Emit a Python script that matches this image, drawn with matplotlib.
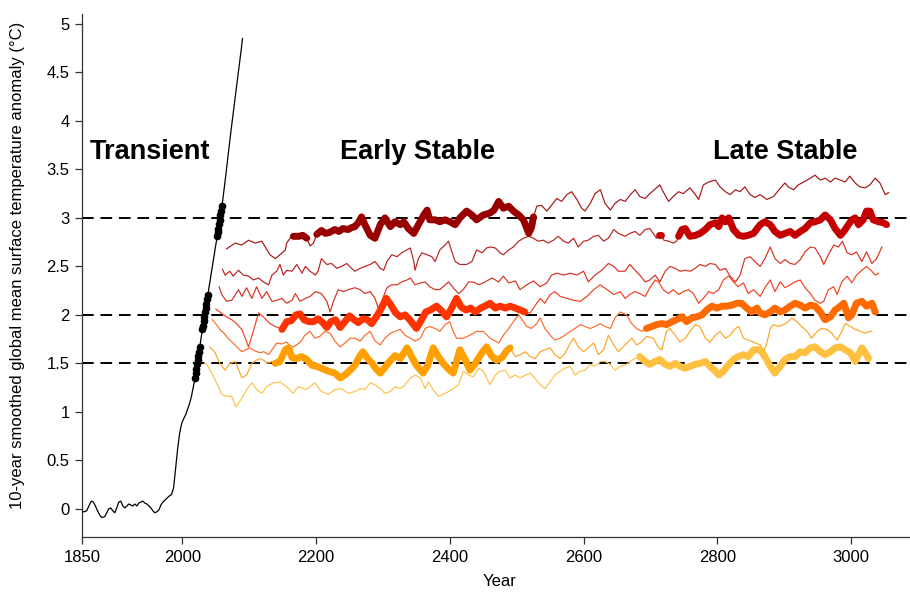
import numpy as np
import matplotlib
matplotlib.use("Agg")
import matplotlib.pyplot as plt

plt.rcParams['font.family'] = ['Liberation Sans', 'DejaVu Sans']

# transient (historical + ramp-up)
tr_yr = [1850, 1853, 1857, 1861, 1864, 1867, 1870, 1874, 1877, 1880, 1884, 1887, 1890, 1893,
         1896, 1899, 1902, 1905, 1908, 1911, 1914, 1917, 1920, 1923, 1926, 1929, 1932, 1935,
         1938, 1941, 1944, 1947, 1950, 1953, 1956, 1959, 1962, 1965, 1968, 1971, 1974, 1977,
         1980, 1984, 1987, 1990, 1993, 1996, 1999, 2002, 2005, 2008, 2011, 2014, 2015, 2016,
         2017, 2018, 2019, 2020, 2021, 2022, 2023, 2024, 2025, 2026, 2027, 2028, 2029, 2030,
         2031, 2032, 2033, 2034, 2035, 2036, 2037, 2038, 2039, 2040, 2041, 2042, 2043, 2044,
         2045, 2046, 2047, 2048, 2049, 2050, 2051, 2052, 2053, 2054, 2055, 2056, 2057, 2058,
         2059, 2060, 2062, 2065, 2069, 2073, 2077, 2081, 2085, 2088, 2090]
tr_t = [-0.03, -0.03, -0.02, 0.04, 0.08, 0.07, 0.03, -0.03, -0.07, -0.09, -0.08, -0.04, 0.00, 0.01,
        -0.02, -0.04, 0.01, 0.07, 0.08, 0.03, 0.01, 0.03, 0.05, 0.04, 0.03, 0.05, 0.03, 0.06,
        0.07, 0.08, 0.06, 0.05, 0.03, 0.01, -0.02, -0.04, -0.03, -0.01, 0.04, 0.07, 0.09, 0.11,
        0.13, 0.15, 0.22, 0.42, 0.62, 0.78, 0.88, 0.93, 0.97, 1.03, 1.09, 1.17, 1.21, 1.24,
        1.28, 1.31, 1.35, 1.40, 1.44, 1.49, 1.53, 1.58, 1.62, 1.67, 1.71, 1.76, 1.80, 1.85,
        1.89, 1.94, 1.98, 2.03, 2.07, 2.11, 2.16, 2.20, 2.24, 2.29, 2.33, 2.37, 2.42, 2.46,
        2.50, 2.55, 2.59, 2.63, 2.68, 2.72, 2.76, 2.81, 2.85, 2.89, 2.94, 2.98, 3.03, 3.07,
        3.12, 3.16, 3.27, 3.44, 3.68, 3.91, 4.13, 4.35, 4.57, 4.73, 4.85]
dot_yr = [2019, 2020, 2021, 2022, 2023, 2024, 2025, 2026,
          2030, 2031, 2032, 2033, 2034, 2035, 2036, 2037, 2038,
          2052, 2053, 2054, 2055, 2056, 2057, 2058, 2059]

l1_yr = [2066, 2079, 2089, 2099, 2109, 2119, 2124, 2131, 2139, 2146, 2154, 2156, 2161, 2166,
         2174, 2180, 2186, 2191, 2196, 2201, 2208, 2214, 2220, 2228, 2234, 2240, 2248, 2253,
         2258, 2263, 2268, 2273, 2281, 2288, 2296, 2303, 2311, 2318, 2326, 2331, 2338, 2346,
         2353, 2361, 2366, 2370, 2378, 2385, 2393, 2400, 2408, 2415, 2425, 2433, 2440, 2450,
         2460, 2466, 2473, 2480, 2488, 2495, 2503, 2510, 2518, 2522, 2525, 2530, 2537, 2545,
         2552, 2560, 2567, 2575, 2582, 2590, 2597, 2602, 2610, 2617, 2625, 2632, 2640, 2647,
         2655, 2662, 2670, 2677, 2684, 2692, 2699, 2709, 2714, 2719, 2727, 2734, 2742, 2749,
         2759, 2767, 2772, 2779, 2787, 2797, 2804, 2812, 2819, 2827, 2834, 2841, 2849, 2856,
         2864, 2874, 2884, 2892, 2901, 2906, 2914, 2921, 2929, 2939, 2946, 2954, 2961, 2969,
         2976, 2984, 2991, 2998, 3006, 3013, 3021, 3028, 3036, 3043, 3051, 3056]
l1_t = [2.68, 2.74, 2.72, 2.77, 2.74, 2.76, 2.70, 2.62, 2.58, 2.62, 2.67, 2.74, 2.79, 2.81,
        2.81, 2.82, 2.79, 2.71, 2.74, 2.83, 2.87, 2.84, 2.85, 2.88, 2.86, 2.89, 2.88, 2.90,
        2.91, 2.95, 3.01, 2.93, 2.82, 2.79, 2.93, 3.00, 2.91, 2.96, 2.93, 2.96, 2.89, 2.84,
        2.93, 3.03, 3.08, 2.98, 2.98, 2.96, 2.98, 2.96, 2.93, 3.00, 3.07, 3.03, 2.98, 3.03,
        3.05, 3.08, 3.17, 3.10, 3.12, 3.07, 3.03, 2.98, 2.84, 2.90, 3.01, 3.12, 3.13, 3.07,
        3.13, 3.20, 3.17, 3.24, 3.27, 3.19, 3.10, 3.07, 3.15, 3.25, 3.29, 3.15, 3.08, 3.15,
        3.19, 3.17, 3.24, 3.29, 3.22, 3.20, 3.25, 3.31, 3.34, 3.27, 3.17, 3.22, 3.27, 3.25,
        3.31, 3.24, 3.19, 3.34, 3.37, 3.39, 3.32, 3.27, 3.24, 3.29, 3.27, 3.32, 3.24, 3.21,
        3.24, 3.19, 3.22, 3.29, 3.36, 3.32, 3.29, 3.34, 3.37, 3.41, 3.44, 3.39, 3.41, 3.37,
        3.41, 3.39, 3.37, 3.43, 3.36, 3.32, 3.31, 3.34, 3.41, 3.36, 3.24, 3.26]

l2_yr = [2060, 2064, 2071, 2076, 2084, 2091, 2099, 2106, 2114, 2121, 2129, 2134, 2141, 2146,
         2151, 2156, 2164, 2171, 2179, 2184, 2191, 2199, 2203, 2208, 2216, 2223, 2231, 2238,
         2246, 2253, 2258, 2266, 2273, 2281, 2288, 2296, 2301, 2306, 2313, 2321, 2328, 2336,
         2341, 2346, 2348, 2353, 2358, 2366, 2373, 2378, 2385, 2393, 2398, 2403, 2408, 2415,
         2425, 2433, 2440, 2448, 2455, 2460, 2468, 2475, 2480, 2488, 2495, 2503, 2510, 2518,
         2525, 2532, 2540, 2547, 2555, 2562, 2570, 2577, 2585, 2592, 2600, 2607, 2615, 2622,
         2630, 2637, 2645, 2652, 2662, 2669, 2677, 2684, 2692, 2699, 2704, 2709, 2712, 2716,
         2720, 2727, 2734, 2739, 2742, 2747, 2752, 2759, 2767, 2774, 2782, 2789, 2797, 2802,
         2807, 2812, 2817, 2824, 2832, 2839, 2846, 2854, 2864, 2871, 2879, 2886, 2894, 2901,
         2909, 2916, 2924, 2931, 2939, 2946, 2954, 2961, 2969, 2976, 2984, 2989, 2996, 3001,
         3006, 3011, 3018, 3023, 3028, 3033, 3041, 3048, 3053]
l2_t = [2.47, 2.41, 2.45, 2.40, 2.46, 2.41, 2.40, 2.36, 2.38, 2.34, 2.31, 2.41, 2.45, 2.52,
        2.41, 2.46, 2.45, 2.52, 2.43, 2.50, 2.45, 2.41, 2.45, 2.58, 2.52, 2.53, 2.48, 2.50,
        2.53, 2.48, 2.45, 2.48, 2.50, 2.52, 2.55, 2.48, 2.46, 2.55, 2.62, 2.60, 2.64, 2.67,
        2.69, 2.55, 2.46, 2.58, 2.64, 2.62, 2.60, 2.55, 2.67, 2.72, 2.76, 2.65, 2.55, 2.52,
        2.52, 2.55, 2.67, 2.64, 2.69, 2.70, 2.69, 2.64, 2.62, 2.67, 2.70, 2.76, 2.79, 2.81,
        2.79, 2.76, 2.77, 2.74, 2.77, 2.81, 2.76, 2.74, 2.79, 2.70, 2.76, 2.77, 2.81, 2.82,
        2.76, 2.79, 2.88, 2.84, 2.81, 2.84, 2.86, 2.82, 2.88, 2.89, 2.84, 2.79, 2.82, 2.82,
        2.77, 2.76, 2.74, 2.76, 2.81, 2.88, 2.89, 2.81, 2.82, 2.84, 2.88, 2.93, 2.95, 2.91,
        3.00, 2.96, 3.00, 2.88, 2.82, 2.81, 2.82, 2.84, 2.93, 2.96, 2.93, 2.86, 2.82, 2.84,
        2.86, 2.82, 2.86, 2.89, 2.95, 2.96, 2.98, 3.03, 2.98, 2.89, 2.82, 2.86, 2.93, 2.98,
        3.00, 2.93, 2.98, 3.07, 3.07, 2.98, 2.96, 2.95, 2.93]

l3_yr = [2055, 2059, 2066, 2074, 2084, 2089, 2096, 2104, 2111, 2119, 2126, 2134, 2141, 2149,
         2156, 2164, 2169, 2176, 2184, 2191, 2199, 2208, 2216, 2221, 2226, 2233, 2241, 2248,
         2258, 2266, 2273, 2281, 2288, 2293, 2298, 2306, 2313, 2321, 2328, 2336, 2341, 2348,
         2356, 2363, 2370, 2378, 2385, 2393, 2398, 2405, 2413, 2420, 2428, 2435, 2443, 2450,
         2463, 2473, 2480, 2488, 2498, 2505, 2515, 2525, 2535, 2545, 2552, 2560, 2570, 2580,
         2590, 2600, 2607, 2617, 2627, 2637, 2645, 2652, 2662, 2669, 2677, 2684, 2692, 2699,
         2707, 2714, 2722, 2729, 2737, 2744, 2752, 2759, 2767, 2774, 2782, 2789, 2797, 2804,
         2812, 2819, 2827, 2834, 2841, 2849, 2856, 2864, 2871, 2879, 2886, 2894, 2901, 2909,
         2916, 2924, 2931, 2939, 2946, 2954, 2959, 2966, 2974, 2981, 2987, 2994, 3001, 3008,
         3016, 3023, 3031, 3038, 3046]
l3_t = [2.29, 2.21, 2.14, 2.15, 2.26, 2.19, 2.28, 2.17, 2.29, 2.17, 2.24, 2.14, 2.15, 2.17,
        2.12, 2.15, 2.22, 2.14, 2.17, 2.19, 2.24, 2.22, 2.14, 2.03, 2.14, 2.26, 2.24, 2.26,
        2.28, 2.26, 2.22, 2.24, 2.17, 2.07, 2.14, 2.28, 2.31, 2.31, 2.34, 2.36, 2.38, 2.31,
        2.33, 2.34, 2.29, 2.26, 2.26, 2.31, 2.34, 2.28, 2.22, 2.26, 2.34, 2.34, 2.31, 2.33,
        2.38, 2.34, 2.40, 2.33, 2.35, 2.26, 2.31, 2.35, 2.29, 2.33, 2.41, 2.43, 2.41, 2.43,
        2.41, 2.45, 2.34, 2.41, 2.46, 2.53, 2.50, 2.45, 2.45, 2.52, 2.46, 2.41, 2.34, 2.36,
        2.41, 2.34, 2.45, 2.50, 2.48, 2.45, 2.46, 2.45, 2.48, 2.52, 2.50, 2.53, 2.52, 2.46,
        2.48, 2.40, 2.34, 2.41, 2.58, 2.60, 2.55, 2.50, 2.58, 2.70, 2.58, 2.53, 2.57, 2.53,
        2.52, 2.57, 2.65, 2.70, 2.69, 2.60, 2.52, 2.62, 2.72, 2.70, 2.76, 2.64, 2.62, 2.65,
        2.55, 2.65, 2.53, 2.58, 2.70]

l4_yr = [2050, 2058, 2066, 2074, 2081, 2089, 2094, 2099, 2106, 2114, 2121, 2131, 2139, 2149,
         2156, 2163, 2170, 2176, 2182, 2189, 2196, 2203, 2210, 2216, 2222, 2229, 2236, 2243,
         2250, 2257, 2263, 2270, 2277, 2283, 2290, 2297, 2305, 2312, 2319, 2326, 2333, 2340,
         2350, 2357, 2364, 2371, 2380, 2388, 2395, 2402, 2410, 2417, 2424, 2431, 2438, 2446,
         2455, 2460, 2468, 2475, 2483, 2490, 2498, 2505, 2512, 2520, 2527, 2535, 2542, 2550,
         2557, 2565, 2575, 2585, 2595, 2605, 2615, 2625, 2635, 2645, 2655, 2662, 2669, 2677,
         2684, 2692, 2699, 2707, 2712, 2719, 2727, 2734, 2742, 2749, 2757, 2764, 2772, 2779,
         2787, 2794, 2802, 2809, 2817, 2824, 2831, 2839, 2846, 2854, 2864, 2871, 2879, 2886,
         2894, 2901, 2909, 2916, 2924, 2931, 2939, 2946, 2954, 2959, 2966, 2974, 2979, 2986,
         2994, 3001, 3008, 3016, 3023, 3031, 3036, 3041]
l4_t = [2.06, 2.02, 1.98, 1.95, 1.91, 1.85, 1.76, 1.67, 1.83, 2.02, 1.98, 1.91, 1.88, 1.85,
        1.93, 1.94, 2.00, 2.01, 1.95, 1.93, 1.93, 1.96, 1.92, 1.87, 1.93, 1.95, 1.87, 1.93,
        1.99, 1.95, 1.92, 1.96, 1.95, 1.91, 1.98, 2.06, 2.17, 2.10, 2.02, 1.98, 2.00, 1.95,
        1.86, 1.94, 2.03, 2.05, 2.09, 2.04, 1.98, 2.06, 2.17, 2.08, 2.05, 2.07, 2.03, 2.07,
        2.10, 2.12, 2.07, 2.09, 2.07, 2.09, 2.07, 2.05, 2.03, 2.02, 2.09, 2.17, 2.12, 2.21,
        2.24, 2.19, 2.17, 2.15, 2.14, 2.19, 2.26, 2.31, 2.26, 2.21, 2.24, 2.17, 2.21, 2.24,
        2.22, 2.19, 2.28, 2.36, 2.34, 2.26, 2.22, 2.26, 2.21, 2.24, 2.26, 2.22, 2.12, 2.17,
        2.24, 2.22, 2.26, 2.36, 2.40, 2.34, 2.29, 2.33, 2.22, 2.26, 2.19, 2.28, 2.36, 2.24,
        2.34, 2.28, 2.31, 2.34, 2.36, 2.28, 2.22, 2.15, 2.12, 2.14, 2.26, 2.29, 2.21, 2.34,
        2.40, 2.33, 2.41, 2.46, 2.50, 2.45, 2.41, 2.43]

l5_yr = [2045, 2051, 2056, 2061, 2066, 2071, 2076, 2083, 2089, 2095, 2101, 2108, 2116, 2122,
         2129, 2135, 2141, 2149, 2156, 2161, 2166, 2171, 2178, 2183, 2191, 2198, 2206, 2213,
         2221, 2228, 2236, 2243, 2251, 2258, 2266, 2273, 2281, 2288, 2296, 2303, 2311, 2318,
         2326, 2333, 2341, 2348, 2356, 2363, 2370, 2378, 2385, 2393, 2400, 2405, 2410, 2420,
         2430, 2440, 2450, 2460, 2468, 2473, 2480, 2488, 2495, 2503, 2508, 2515, 2522, 2530,
         2535, 2542, 2550, 2557, 2565, 2572, 2580, 2587, 2595, 2602, 2610, 2617, 2625, 2632,
         2640, 2647, 2655, 2664, 2672, 2679, 2687, 2694, 2702, 2709, 2717, 2724, 2732, 2739,
         2747, 2754, 2762, 2769, 2777, 2784, 2792, 2799, 2807, 2814, 2822, 2829, 2836, 2844,
         2851, 2859, 2864, 2871, 2879, 2886, 2894, 2901, 2909, 2916, 2924, 2931, 2939, 2946,
         2954, 2961, 2969, 2976, 2984, 2989, 2996, 3001, 3008, 3016, 3023, 3031, 3036]
l5_t = [1.95, 1.90, 1.85, 1.82, 1.78, 1.74, 1.71, 1.66, 1.62, 1.64, 1.66, 1.63, 1.61, 1.62,
        1.59, 1.65, 1.71, 1.70, 1.72, 1.68, 1.67, 1.69, 1.73, 1.79, 1.83, 1.76, 1.78, 1.83,
        1.81, 1.73, 1.67, 1.71, 1.76, 1.76, 1.73, 1.79, 1.83, 1.73, 1.69, 1.76, 1.81, 1.83,
        1.85, 1.79, 1.76, 1.73, 1.76, 1.86, 1.88, 1.86, 1.83, 1.90, 1.93, 1.83, 1.76, 1.76,
        1.79, 1.83, 1.83, 1.76, 1.73, 1.71, 1.79, 1.86, 1.93, 2.00, 1.95, 1.88, 1.86, 1.91,
        1.97, 1.86, 1.79, 1.74, 1.76, 1.79, 1.83, 1.86, 1.90, 1.88, 1.86, 1.88, 1.91, 1.88,
        1.86, 1.97, 2.03, 2.00, 1.91, 1.86, 1.83, 1.86, 1.88, 1.90, 1.91, 1.90, 1.93, 1.95,
        1.98, 1.93, 1.97, 1.98, 2.00, 2.05, 2.09, 2.07, 2.09, 2.09, 2.10, 2.12, 2.12, 2.07,
        2.03, 2.07, 2.02, 2.00, 2.03, 2.07, 2.03, 2.05, 2.09, 2.12, 2.10, 2.07, 2.10, 2.09,
        2.03, 1.95, 1.98, 2.05, 2.09, 2.12, 1.97, 2.00, 2.12, 2.14, 2.09, 2.12, 2.03]

l6_yr = [2041, 2049, 2056, 2064, 2071, 2079, 2084, 2089, 2096, 2104, 2110, 2116, 2122, 2129,
         2134, 2139, 2146, 2154, 2159, 2164, 2171, 2178, 2186, 2194, 2201, 2208, 2218, 2228,
         2236, 2243, 2251, 2258, 2264, 2270, 2277, 2284, 2290, 2296, 2303, 2310, 2318, 2326,
         2336, 2342, 2350, 2360, 2367, 2375, 2382, 2390, 2398, 2405, 2415, 2422, 2430, 2438,
         2447, 2455, 2462, 2470, 2478, 2485, 2490, 2498, 2505, 2513, 2520, 2528, 2535, 2542,
         2550, 2557, 2565, 2572, 2580, 2585, 2592, 2600, 2607, 2615, 2622, 2630, 2637, 2645,
         2652, 2665, 2672, 2679, 2687, 2694, 2704, 2712, 2717, 2724, 2729, 2737, 2744, 2752,
         2759, 2767, 2774, 2782, 2789, 2797, 2804, 2812, 2819, 2827, 2832, 2839, 2846, 2854,
         2864, 2869, 2874, 2879, 2884, 2891, 2899, 2906, 2911, 2919, 2926, 2934, 2941, 2949,
         2956, 2964, 2971, 2979, 2986, 2991, 2999, 3006, 3014, 3021, 3028, 3031]
l6_t = [1.67, 1.61, 1.50, 1.43, 1.50, 1.52, 1.44, 1.35, 1.38, 1.50, 1.53, 1.55, 1.53, 1.50,
        1.52, 1.50, 1.52, 1.64, 1.66, 1.56, 1.55, 1.57, 1.54, 1.48, 1.47, 1.45, 1.42, 1.40,
        1.35, 1.38, 1.43, 1.48, 1.56, 1.62, 1.55, 1.50, 1.44, 1.40, 1.46, 1.52, 1.58, 1.55,
        1.66, 1.58, 1.48, 1.40, 1.48, 1.66, 1.58, 1.50, 1.44, 1.40, 1.64, 1.55, 1.43, 1.50,
        1.60, 1.67, 1.58, 1.53, 1.56, 1.63, 1.66, 1.57, 1.59, 1.62, 1.57, 1.55, 1.62, 1.64,
        1.66, 1.59, 1.55, 1.60, 1.71, 1.76, 1.67, 1.62, 1.66, 1.71, 1.59, 1.64, 1.79, 1.69,
        1.62, 1.71, 1.76, 1.69, 1.72, 1.78, 1.76, 1.66, 1.64, 1.83, 1.86, 1.79, 1.72, 1.76,
        1.83, 1.90, 1.88, 1.76, 1.72, 1.79, 1.83, 1.76, 1.79, 1.86, 1.88, 1.76, 1.74, 1.72,
        1.69, 1.62, 1.71, 1.86, 1.90, 1.88, 1.90, 1.93, 1.97, 1.93, 1.88, 1.83, 1.76, 1.83,
        1.86, 1.85, 1.81, 1.74, 1.83, 1.91, 1.88, 1.85, 1.83, 1.81, 1.83, 1.83]

l7_yr = [2036, 2044, 2051, 2059, 2066, 2074, 2080, 2089, 2096, 2104, 2111, 2119, 2126, 2136,
         2146, 2156, 2166, 2173, 2186, 2198, 2208, 2218, 2228, 2238, 2248, 2258, 2266, 2273,
         2281, 2288, 2296, 2303, 2311, 2318, 2326, 2333, 2341, 2348, 2356, 2363, 2368, 2375,
         2383, 2390, 2398, 2405, 2413, 2420, 2428, 2435, 2443, 2450, 2460, 2468, 2475, 2483,
         2490, 2498, 2505, 2513, 2520, 2527, 2535, 2542, 2550, 2557, 2565, 2572, 2580, 2587,
         2595, 2602, 2610, 2617, 2625, 2632, 2640, 2647, 2655, 2664, 2674, 2684, 2692, 2699,
         2707, 2714, 2722, 2729, 2737, 2744, 2752, 2759, 2767, 2774, 2782, 2789, 2797, 2802,
         2809, 2817, 2824, 2831, 2839, 2846, 2854, 2864, 2871, 2879, 2886, 2894, 2901, 2909,
         2916, 2924, 2931, 2939, 2946, 2954, 2961, 2969, 2976, 2984, 2991, 2999, 3006, 3011,
         3016, 3021, 3026]
l7_t = [1.50, 1.40, 1.30, 1.18, 1.16, 1.16, 1.05, 1.14, 1.23, 1.30, 1.23, 1.19, 1.26, 1.30,
        1.31, 1.26, 1.19, 1.26, 1.23, 1.30, 1.21, 1.18, 1.23, 1.24, 1.19, 1.21, 1.24, 1.23,
        1.30, 1.28, 1.24, 1.19, 1.21, 1.26, 1.24, 1.28, 1.35, 1.38, 1.35, 1.24, 1.31, 1.23,
        1.16, 1.18, 1.21, 1.24, 1.28, 1.42, 1.38, 1.36, 1.45, 1.42, 1.28, 1.38, 1.42, 1.43,
        1.35, 1.38, 1.35, 1.38, 1.40, 1.35, 1.28, 1.24, 1.31, 1.38, 1.42, 1.45, 1.47, 1.38,
        1.42, 1.43, 1.49, 1.47, 1.52, 1.52, 1.49, 1.43, 1.47, 1.49, 1.54, 1.57, 1.52, 1.49,
        1.52, 1.54, 1.49, 1.47, 1.50, 1.47, 1.45, 1.47, 1.49, 1.50, 1.52, 1.47, 1.42, 1.38,
        1.42, 1.49, 1.54, 1.57, 1.59, 1.57, 1.64, 1.64, 1.57, 1.47, 1.40, 1.47, 1.54, 1.57,
        1.57, 1.62, 1.61, 1.66, 1.67, 1.62, 1.59, 1.62, 1.66, 1.67, 1.64, 1.61, 1.52, 1.59,
        1.66, 1.61, 1.55]

# (years, values, thin colour, thick colour, highlighted windows)
runs = [
    (l1_yr, l1_t, '#a31515', '#990000', [(2164, 2187), (2199, 2526)]),
    (l2_yr, l2_t, '#bb2020', '#c40000', [(2711, 2717), (2741, 3055)]),
    (l3_yr, l3_t, '#d8301f', None, []),
    (l4_yr, l4_t, '#f2401e', '#ff3300', [(2148, 2513)]),
    (l5_yr, l5_t, '#fd6a28', '#ff6a00', [(2693, 3037)]),
    (l6_yr, l6_t, '#fda425', '#ffa000', [(2138, 2491)]),
    (l7_yr, l7_t, '#fec24a', '#ffc040', [(2683, 3027)]),
]

fig = plt.figure(figsize=(9.1, 5.93), dpi=100)
ax = fig.add_axes([82 / 910, 56 / 593, 828 / 910, 522.8 / 593])

for lev in [1.5, 2, 3]:
    ax.axhline(lev, color='black', lw=1.4, ls=(0, (6, 3.5)), zorder=1)

ax.plot(tr_yr, tr_t, color='black', lw=0.9, zorder=3)
tr_yr_a = np.array(tr_yr)
tr_t_a = np.array(tr_t)
m = np.isin(tr_yr_a, dot_yr)
ax.plot(tr_yr_a[m], tr_t_a[m], 'o', color='black', ms=4.5, zorder=4)

for yrs, vals, c_thin, c_thick, wins in runs:
    ax.plot(yrs, vals, color=c_thin, lw=0.85, zorder=2)

for yrs, vals, c_thin, c_thick, wins in runs:
    yrs = np.array(yrs)
    vals = np.array(vals)
    for a, b in wins:
        k = (yrs >= a) & (yrs <= b)
        ax.plot(yrs[k], vals[k], color=c_thick, lw=5, solid_capstyle='round',
                solid_joinstyle='round', zorder=5)

ax.set_xlim(1850, 3088)
ax.set_ylim(-0.29, 5.1)
ax.set_xticks([1850, 2000, 2200, 2400, 2600, 2800, 3000])
ax.set_yticks(np.arange(0, 5.01, 0.5))
ax.set_yticklabels(['0', '0.5', '1', '1.5', '2', '2.5', '3', '3.5', '4', '4.5', '5'])
for s in ['top', 'right']:
    ax.spines[s].set_visible(False)
for s in ['left', 'bottom']:
    ax.spines[s].set_linewidth(0.9)
    ax.spines[s].set_color('#333333')
ax.tick_params(direction='out', length=5, width=0.9, labelsize=12, color='#333333', pad=4)

ax.text(1952, 3.68, 'Transient', fontsize=19.5, fontweight='bold', ha='center', va='center')
ax.text(2351, 3.68, 'Early Stable', fontsize=19.5, fontweight='bold', ha='center', va='center')
ax.text(2901, 3.68, 'Late Stable', fontsize=19.5, fontweight='bold', ha='center', va='center')

fig.text(500 / 910, 1 - 582 / 593, 'Year', fontsize=12, ha='center', va='center')
fig.text(18 / 910, 1 - 265 / 593, '10-year smoothed global mean surface temperature anomaly (°C)',
         fontsize=12, rotation=90, ha='center', va='center')

fig.savefig('out.png', dpi=100)
